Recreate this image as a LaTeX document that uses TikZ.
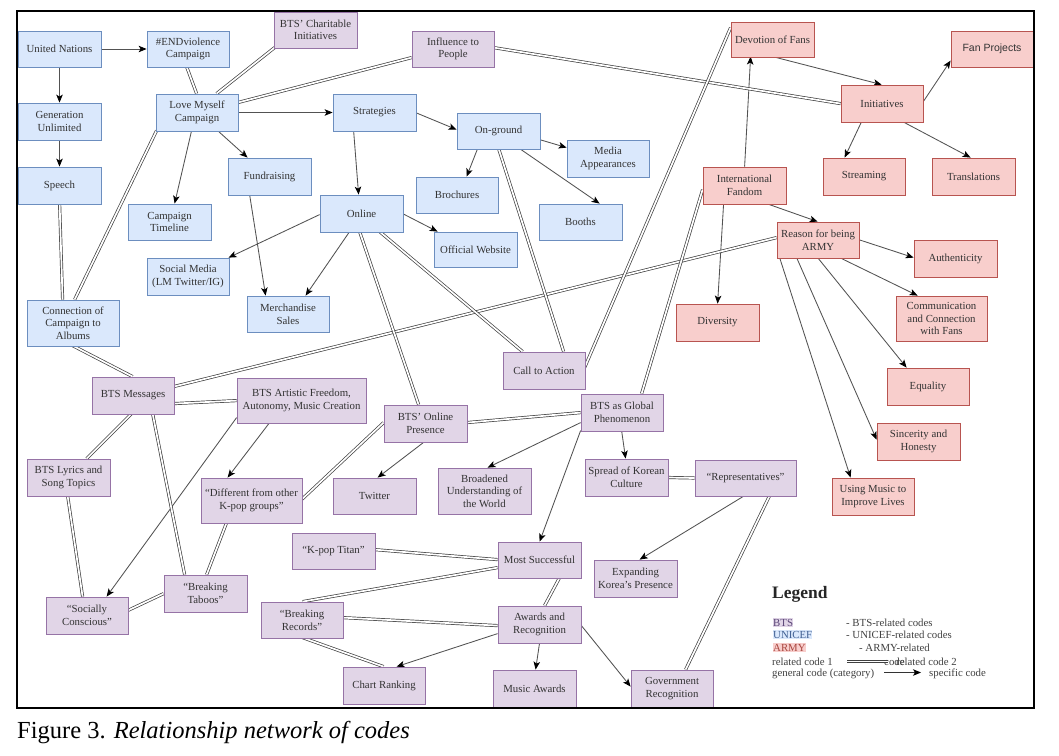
\documentclass[tikz,border=0pt]{standalone}
\usepackage{fontspec}
\setmainfont{Liberation Serif}
\newfontfamily\arialfont{Liberation Sans}
\usetikzlibrary{arrows.meta,calc,backgrounds}
\definecolor{ubfill}{HTML}{DAE8FC}
\definecolor{ubdraw}{HTML}{6C8EBF}
\definecolor{btfill}{HTML}{E1D5E7}
\definecolor{btdraw}{HTML}{9673A6}
\definecolor{arfill}{HTML}{F8CECC}
\definecolor{ardraw}{HTML}{B85450}
\definecolor{bttext}{HTML}{5A4577}
\definecolor{ubtext}{HTML}{3F5F92}
\definecolor{artext}{HTML}{A8463F}
\tikzset{
  cbox/.style={draw, line width=0.8pt, minimum width=83pt, minimum height=37pt, inner sep=1pt, align=center, font=\fontsize{10.8}{12.6}\selectfont, text=black!80},
  sz/.style 2 args={minimum width=#1pt, minimum height=#2pt},
  ub/.style={cbox, fill=ubfill, draw=ubdraw},
  bt/.style={cbox, fill=btfill, draw=btdraw},
  ar/.style={cbox, fill=arfill, draw=ardraw},
  rel/.style={draw=black!75, line width=0.7pt, double=white, double distance=1.7pt},
  gen/.style={draw=black!68, line width=0.85pt, -{Stealth[length=8pt,width=6.5pt,inset=2pt,color=black]}},
  legtext/.style={anchor=base west, inner sep=0pt, font=\fontsize{10.8}{12.6}\selectfont, text=black!75},
}
\begin{document}
\begin{tikzpicture}[x=1pt,y=-1pt]
\useasboundingbox (0,0) rectangle (1059,755);
% ---------- UNICEF nodes
\node[ub, sz={83}{36}] (UN) at (59.5,49) {United Nations};
\node[ub, sz={82}{36}] (END) at (188,49) {\#ENDviolence\\Campaign};
\node[ub] (GEN) at (59.5,121.5) {Generation\\Unlimited};
\node[ub] (SPEECH) at (59.5,185.5) {Speech};
\node[ub, sz={82}{37}] (LM) at (197,112.5) {Love Myself\\Campaign};
\node[ub] (FUND) at (269.5,176.5) {Fundraising};
\node[ub, sz={83}{36}] (TIME) at (169.5,222) {Campaign\\Timeline};
\node[ub] (STRAT) at (374.5,112.5) {Strategies};
\node[ub, sz={83}{36}] (ONG) at (498.5,131) {On-ground};
\node[ub, sz={82}{37}] (MEDIA) at (608,158.5) {Media\\Appearances};
\node[ub, sz={82}{36}] (BROCH) at (457,195) {Brochures};
\node[ub, sz={83}{36}] (BOOTH) at (580.5,222) {Booths};
\node[ub] (ONLINE) at (361.5,213.5) {Online};
\node[ub, sz={83}{35}] (WEB) at (475.5,249.5) {Official Website};
\node[ub, sz={82}{37}] (SOCIAL) at (188,276.5) {Social Media\\(LM Twitter/IG)};
\node[ub, sz={82}{36}] (MERCH) at (288,314) {Merchandise\\Sales};
\node[ub, sz={92}{46}] (CONN) at (73,323) {Connection of\\Campaign to\\Albums};
% ---------- BTS nodes
\node[bt, sz={83}{36}] (CHAR) at (315.5,30) {BTS' Charitable\\Initiatives};
\node[bt, sz={82}{36}] (INFL) at (453,49) {Influence to\\People};
\node[bt, sz={82}{37}] (MSG) at (133,395.5) {BTS Messages};
\node[bt, sz={129}{45}] (ART) at (301.5,400.5) {BTS Artistic Freedom,\\Autonomy, Music Creation};
\node[bt] (LYR) at (68.5,477.5) {BTS Lyrics and\\Song Topics};
\node[bt, sz={101}{45}] (DIFF) at (251.5,500.5) {“Different from other\\K-pop groups”};
\node[bt, sz={82}{37}] (SOC) at (87,615.5) {“Socially\\Conscious”};
\node[bt] (TABOO) at (205.5,593.5) {“Breaking\\Taboos”};
\node[bt, sz={83}{36}] (TITAN) at (333.5,551) {“K-pop Titan”};
\node[bt, sz={82}{36}] (RECORD) at (302,620) {“Breaking\\Records”};
\node[bt, sz={82}{37}] (CHART) at (384,685.5) {Chart Ranking};
\node[bt, sz={82}{37}] (CALL) at (544,370.5) {Call to Action};
\node[bt] (PRES) at (425.5,423.5) {BTS' Online\\Presence};
\node[bt, sz={82}{37}] (GLOBAL) at (622,412.5) {BTS as Global\\Phenomenon};
\node[bt, sz={83}{36}] (TWIT) at (374.5,496) {Twitter};
\node[bt, sz={93}{46}] (BROAD) at (484.5,491) {Broadened\\Understanding of\\the World};
\node[bt] (SPREAD) at (626.5,477.5) {Spread of Korean\\Culture};
\node[bt, sz={101}{36}] (REPR) at (745.5,478) {“Representatives”};
\node[bt, sz={83}{36}] (MOST) at (539.5,560) {Most Successful};
\node[bt] (EXP) at (635.5,578.5) {Expanding\\Korea's Presence};
\node[bt] (AWARD) at (539.5,624.5) {Awards and\\Recognition};
\node[bt] (MAWARD) at (534.5,688.5) {Music Awards};
\node[bt, sz={82}{37}] (GOV) at (672,688.5) {Government\\Recognition};
% ---------- ARMY nodes
\node[ar, sz={83}{35}] (DEVO) at (772.5,39.5) {Devotion of Fans};
\node[ar, sz={82}{36}, font=\arialfont\fontsize{10.5}{12.6}\selectfont] (FANP) at (992,49) {Fan Projects};
\node[ar, sz={82}{37}] (INIT) at (882,103.5) {Initiatives};
\node[ar, sz={82}{37}] (STREAM) at (864,176.5) {Streaming};
\node[ar] (TRANS) at (973.5,176.5) {Translations};
\node[ar] (INTF) at (744.5,185.5) {International\\Fandom};
\node[ar, sz={82}{36}] (REASON) at (818,240) {Reason for being\\ARMY};
\node[ar] (AUTH) at (955.5,258.5) {Authenticity};
\node[ar, sz={91}{45}] (COMM) at (941.5,318.5) {Communication\\and Connection\\with Fans};
\node[ar] (DIV) at (717.5,322.5) {Diversity};
\node[ar, sz={82}{37}] (EQ) at (928,386.5) {Equality};
\node[ar] (SINC) at (918.5,441.5) {Sincerity and\\Honesty};
\node[ar, sz={82}{37}] (MUSIC) at (873,496.5) {Using Music to\\Improve Lives};
% ---------- connectors
\begin{pgfonlayer}{background}
\fill[white] (0,0) rectangle (1059,755);
% general -> specific
\draw[gen] (UN.east) -- (END.west);
\draw[gen] (UN.south) -- (GEN.north);
\draw[gen] (GEN.south) -- (SPEECH.north);
\draw[gen] (LM.east) -- (STRAT.west);
\draw[gen] ($(LM.north west)+(36,37)$) -- ($(TIME.north west)+(47,0)$);
\draw[gen] ($(LM.north west)+(62,37)$) -- ($(FUND.north west)+(20,0)$);
\draw[gen] ($(STRAT.north west)+(83,19)$) -- ($(ONG.north west)+(0,17)$);
\draw[gen] ($(STRAT.north west)+(21,37)$) -- ($(ONLINE.north west)+(39,0)$);
\draw[gen] ($(ONG.north west)+(83,27)$) -- ($(MEDIA.north west)+(0,8)$);
\draw[gen] ($(ONG.north west)+(21,36)$) -- ($(BROCH.north west)+(51,0)$);
\draw[gen] ($(ONG.north west)+(63,36)$) -- ($(BOOTH.north west)+(61,0)$);
\draw[gen] ($(ONLINE.north west)+(83,19)$) -- ($(WEB.north west)+(4,0)$);
\draw[gen] ($(ONLINE.north west)+(0,20)$) -- ($(SOCIAL.north west)+(82,0)$);
\draw[gen] ($(FUND.north west)+(22,37)$) -- ($(MERCH.north west)+(19,0)$);
\draw[gen] ($(ONLINE.north west)+(30,37)$) -- ($(MERCH.north west)+(59,0)$);
\draw[gen] ($(DEVO.north west)+(42,35)$) -- ($(INIT.north west)+(41,0)$);
\draw[gen] ($(INTF.north west)+(42,0)$) -- ($(DEVO.north west)+(20,35)$);
\draw[gen] ($(INIT.north west)+(82,18)$) -- ($(FANP.north west)+(0,30)$);
\draw[gen] ($(INIT.north west)+(21,37)$) -- ($(STREAM.north west)+(22,0)$);
\draw[gen] ($(INIT.north west)+(62,37)$) -- ($(TRANS.north west)+(39,0)$);
\draw[gen] ($(INTF.north west)+(64,37)$) -- ($(REASON.north west)+(41,0)$);
\draw[gen] ($(INTF.north west)+(21,37)$) -- ($(DIV.north west)+(42,0)$);
\draw[gen] ($(REASON.north west)+(82,18)$) -- ($(AUTH.north west)+(0,18)$);
\draw[gen] ($(REASON.north west)+(63,36)$) -- ($(COMM.north west)+(22,0)$);
\draw[gen] ($(REASON.north west)+(41,36)$) -- ($(EQ.north west)+(20,0)$);
\draw[gen] ($(REASON.north west)+(20,36)$) -- ($(SINC.north west)+(0,17)$);
\draw[gen] ($(REASON.north west)+(3,36)$) -- ($(MUSIC.north west)+(19,0)$);
\draw[gen] ($(ART.north west)+(0,40)$) -- ($(SOC.north west)+(61,0)$);
\draw[gen] ($(ART.north west)+(33,45)$) -- ($(DIFF.north west)+(27,0)$);
\draw[gen] ($(PRES.north west)+(41,37)$) -- ($(TWIT.north west)+(45,0)$);
\draw[gen] ($(GLOBAL.north west)+(0,29)$) -- ($(BROAD.north west)+(50,0)$);
\draw[gen] ($(GLOBAL.north west)+(41,37)$) -- ($(SPREAD.north west)+(41,0)$);
\draw[gen] ($(GLOBAL.north west)+(0,37)$) -- ($(MOST.north west)+(42,0)$);
\draw[gen] ($(REPR.north west)+(50,36)$) -- ($(EXP.north west)+(46,0)$);
\draw[gen] ($(AWARD.north west)+(0,28)$) -- ($(CHART.north west)+(54,0)$);
\draw[gen] ($(AWARD.north west)+(42,37)$) -- ($(MAWARD.north west)+(43,0)$);
\draw[gen] ($(AWARD.north west)+(83,19)$) -- ($(GOV.north west)+(0,17)$);
% related codes
\draw[rel] ($(END.north west)+(40,36)$) -- ($(LM.north west)+(41,0)$);
\draw[rel] ($(CHAR.north west)+(1,36)$) -- ($(LM.north west)+(61,0)$);
\draw[rel] ($(INFL.north west)+(0,27)$) -- ($(LM.north west)+(82,9)$);
\draw[rel] ($(INFL.north west)+(82,17)$) -- ($(INIT.north west)+(0,19)$);
\draw[rel] ($(LM.north west)+(1,37)$) -- ($(CONN.north west)+(48,0)$);
\draw[rel] ($(SPEECH.north west)+(42,37)$) -- ($(CONN.north west)+(36,0)$);
\draw[rel] ($(CONN.north west)+(46,46)$) -- ($(MSG.north west)+(41,0)$);
\draw[rel] ($(MSG.north west)+(82,10)$) -- ($(REASON.north west)+(0,16)$);
\draw[rel] ($(MSG.north west)+(82,27)$) -- ($(ART.north west)+(0,23)$);
\draw[rel] ($(MSG.north west)+(40,37)$) -- ($(LYR.north west)+(60,0)$);
\draw[rel] ($(MSG.north west)+(61,37)$) -- ($(TABOO.north west)+(21,0)$);
\draw[rel] ($(LYR.north west)+(41,37)$) -- ($(SOC.north west)+(37,0)$);
\draw[rel] ($(SOC.north west)+(82,14)$) -- ($(TABOO.north west)+(0,19)$);
\draw[rel] ($(DIFF.north west)+(26,45)$) -- ($(TABOO.north west)+(43,0)$);
\draw[rel] ($(DIFF.north west)+(101,22)$) -- ($(PRES.north west)+(0,18)$);
\draw[rel] ($(ONLINE.north west)+(40,37)$) -- ($(PRES.north west)+(35,0)$);
\draw[rel] ($(ONLINE.north west)+(60,37)$) -- ($(CALL.north west)+(20,0)$);
\draw[rel] ($(ONG.north west)+(42,36)$) -- ($(CALL.north west)+(61,0)$);
\draw[rel] ($(CALL.north west)+(82,16)$) -- ($(DEVO.north west)+(0,6)$);
\draw[rel] ($(GLOBAL.north west)+(61,0)$) -- ($(INTF.north west)+(0,23)$);
\draw[rel] ($(PRES.north west)+(83,18)$) -- ($(GLOBAL.north west)+(0,19)$);
\draw[rel] (SPREAD.east) -- (REPR.west);
\draw[rel] ($(REPR.north west)+(75,36)$) -- ($(GOV.north west)+(55,0)$);
\draw[rel] ($(TITAN.north west)+(83,17)$) -- ($(MOST.north west)+(0,18)$);
\draw[rel] ($(MOST.north west)+(0,26)$) -- ($(RECORD.north west)+(42,0)$);
\draw[rel] ($(MOST.north west)+(62,36)$) -- ($(AWARD.north west)+(47,0)$);
\draw[rel] ($(RECORD.north west)+(82,16)$) -- ($(AWARD.north west)+(0,20)$);
\draw[rel] ($(RECORD.north west)+(42,36)$) -- ($(CHART.north west)+(41,0)$);
\end{pgfonlayer}
% ---------- legend
\node[anchor=base west, inner sep=0pt, font=\fontsize{17.5}{20}\selectfont\bfseries, text=black!85] (LEG) at (772,598) {Legend};
\node[legtext, fill=btfill, text=bttext, inner ysep=1pt] (LBTS) at (773,626) {BTS};
\node[legtext, fill=ubfill, text=ubtext, inner ysep=1pt] (LUNI) at (773,638) {UNICEF};
\node[legtext, fill=arfill, text=artext, inner ysep=1pt] (LARM) at (773,651) {ARMY};
\node[legtext] (LBTSd) at (846,626) {- BTS-related codes};
\node[legtext] (LUNId) at (846,638) {- UNICEF-related codes};
\node[legtext] (LARMd) at (859,651) {- ARMY-related};
\node[legtext] (LR1) at (772,665) {related code 1};
\node[legtext] (LCODE) at (884,665) {code};
\node[legtext] (LR2) at (896,665) {related code 2};
\node[legtext] (LG1) at (772,676) {general code (category)};
\node[legtext] (LG2) at (929,676) {specific code};
\coordinate (lr1) at (847,661.5);
\coordinate (lr2) at (888,661.5);
\coordinate (la1) at (884,672.5);
\coordinate (la2) at (921,672.5);
\draw[rel] (lr1) -- (lr2);
\draw[gen, draw=black!80] (la1) -- (la2);
% ---------- frame and caption
\draw[line width=1.6pt] (17,11) rectangle (1034,708);
\node[anchor=base west, inner sep=0pt, font=\fontsize{24.5}{28}\selectfont] (CAP) at (17,738) {Figure 3. \textit{Relationship network of codes}};
\end{tikzpicture}
\end{document}
